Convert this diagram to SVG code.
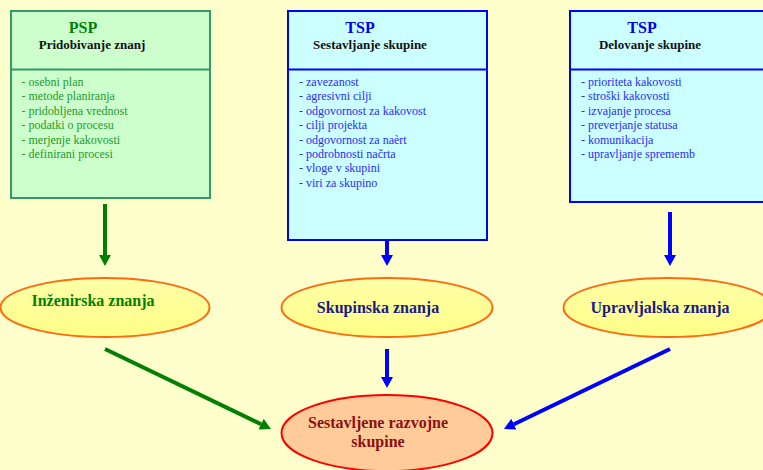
<svg xmlns="http://www.w3.org/2000/svg" width="763" height="470" viewBox="0 0 763 470">
  <defs>
    <linearGradient id="yellowFill" x1="0" y1="0" x2="0" y2="1">
      <stop offset="0" stop-color="#ffffa8"/>
      <stop offset="1" stop-color="#ffff88"/>
    </linearGradient>
    <marker id="headGreen" viewBox="0 0 11 12" refX="0" refY="6" markerWidth="11" markerHeight="12" markerUnits="userSpaceOnUse" orient="auto">
      <path d="M0,0 L11,6 L0,12 Z" fill="#008000"/>
    </marker>
    <marker id="headBlue" viewBox="0 0 11 12" refX="0" refY="6" markerWidth="11" markerHeight="12" markerUnits="userSpaceOnUse" orient="auto">
      <path d="M0,0 L11,6 L0,12 Z" fill="#0000ff"/>
    </marker>
  </defs>
  <style>
    text { font-family: "Liberation Serif", "Times New Roman", serif; }
    .boxG { fill: #ccffcc; stroke: #339966; stroke-width: 2; }
    .boxB { fill: #ccffff; stroke: #0000ff; stroke-width: 2; }
    .title { font-size: 16px; font-weight: bold; text-anchor: middle; }
    .sub { font-size: 13px; font-weight: bold; fill: #111111; text-anchor: middle; }
    .item { font-size: 12px; }
    .itemG { fill: #1f9a2a; }
    .itemB { fill: #2b2bff; }
    .oval { fill: url(#yellowFill); stroke: #ff6a10; stroke-width: 2; }
    .olabel { font-size: 16px; font-weight: bold; text-anchor: middle; }
    .arrG { stroke: #008000; stroke-width: 4; fill: none; marker-end: url(#headGreen); }
    .arrB { stroke: #0000ff; stroke-width: 4; fill: none; marker-end: url(#headBlue); }
  </style>

  <rect width="763" height="470" fill="#ffffcc"/>

  <!-- PSP: knowledge acquisition -->
  <g id="psp">
    <rect class="boxG" x="11" y="11" width="199" height="187"/>
    <line x1="11" y1="69.5" x2="210" y2="69.5" stroke="#339966" stroke-width="2"/>
    <text class="title" x="83" y="33" fill="#008000">PSP</text>
    <text class="sub" x="92" y="49">Pridobivanje znanj</text>
    <g class="item itemG">
      <text x="21.5" y="86">- osebni plan</text>
      <text x="21.5" y="100.4">- metode planiranja</text>
      <text x="21.5" y="114.8">- pridobljena vrednost</text>
      <text x="21.5" y="129.2">- podatki o procesu</text>
      <text x="21.5" y="143.6">- merjenje kakovosti</text>
      <text x="21.5" y="158">- definirani procesi</text>
    </g>
  </g>

  <!-- TSP: team launch -->
  <g id="tsp-launch">
    <rect class="boxB" x="288" y="11" width="199" height="229"/>
    <line x1="288" y1="69.5" x2="487" y2="69.5" stroke="#0000ff" stroke-width="2"/>
    <text class="title" x="360" y="33" fill="#0000ee">TSP</text>
    <text class="sub" x="370" y="49">Sestavljanje skupine</text>
    <g class="item itemB">
      <text x="299" y="86">- zavezanost</text>
      <text x="299" y="100.4">- agresivni cilji</text>
      <text x="299" y="114.8">- odgovornost za kakovost</text>
      <text x="299" y="129.2">- cilji projekta</text>
      <text x="299" y="143.6">- odgovornost za naèrt</text>
      <text x="299" y="158">- podrobnosti načrta</text>
      <text x="299" y="172.4">- vloge v skupini</text>
      <text x="299" y="186.8">- viri za skupino</text>
    </g>
  </g>

  <!-- TSP: team operation -->
  <g id="tsp-operation">
    <rect class="boxB" x="570" y="11" width="199" height="191"/>
    <line x1="570" y1="69.5" x2="769" y2="69.5" stroke="#0000ff" stroke-width="2"/>
    <text class="title" x="642" y="33" fill="#0000ee">TSP</text>
    <text class="sub" x="650" y="49">Delovanje skupine</text>
    <g class="item itemB">
      <text x="581" y="86">- prioriteta kakovosti</text>
      <text x="581" y="100.4">- stroški kakovosti</text>
      <text x="581" y="114.8">- izvajanje procesa</text>
      <text x="581" y="129.2">- preverjanje statusa</text>
      <text x="581" y="143.6">- komunikacija</text>
      <text x="581" y="158">- upravljanje sprememb</text>
    </g>
  </g>

  <!-- knowledge ovals -->
  <g id="engineering">
    <ellipse class="oval" cx="105" cy="307.5" rx="104.5" ry="29.5"/>
    <text class="olabel" x="93" y="306" fill="#008000">Inženirska znanja</text>
  </g>
  <g id="team">
    <ellipse class="oval" cx="387" cy="307.5" rx="105.5" ry="29.5"/>
    <text class="olabel" x="378" y="313" fill="#1a1a80">Skupinska znanja</text>
  </g>
  <g id="management">
    <ellipse class="oval" cx="668" cy="307.5" rx="104.5" ry="29.5"/>
    <text class="olabel" x="660" y="313" fill="#1a1a80">Upravljalska znanja</text>
  </g>

  <!-- result -->
  <g id="result">
    <ellipse cx="387" cy="433" rx="105.5" ry="38" fill="#ffcc99" stroke="#ff0000" stroke-width="2"/>
    <text class="olabel" x="378" y="428" fill="#8b1010">Sestavljene razvojne</text>
    <text class="olabel" x="378" y="447" fill="#8b1010">skupine</text>
  </g>

  <!-- connectors -->
  <g id="connectors">
    <line class="arrG" x1="105" y1="204" x2="105" y2="255"/>
    <line class="arrB" x1="387" y1="240" x2="387" y2="255"/>
    <line class="arrB" x1="670" y1="212" x2="670" y2="255"/>
    <line class="arrG" x1="105" y1="349" x2="261.1" y2="424.2"/>
    <line class="arrB" x1="387" y1="349" x2="387" y2="377"/>
    <line class="arrB" x1="670" y1="349" x2="513.9" y2="424.2"/>
  </g>
</svg>
